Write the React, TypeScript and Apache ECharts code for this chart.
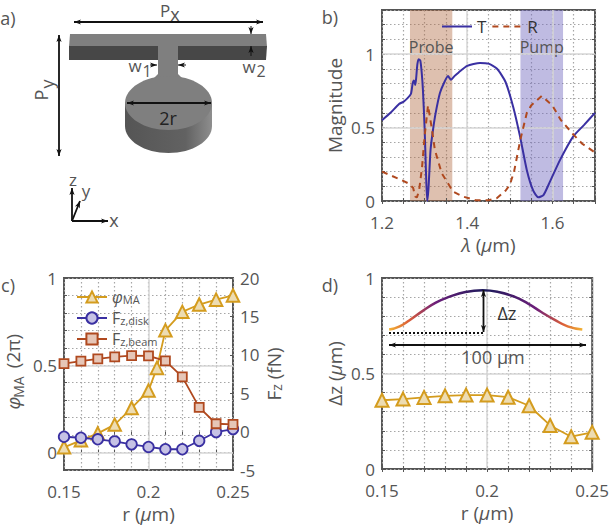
import React, { useEffect, useRef } from "react";
import * as echarts from "echarts";

const FONT = "Open Sans";
const INK = "#555";
const GOLD = "#d49c1e";
const BLUE = "#3a30a2";
const RUST = "#b0491f";

const lambdaT = [1.2,1.22,1.24,1.25,1.26,1.268,1.272,1.275,1.278,1.28,1.283,1.286,1.29,1.293,1.296,1.3,1.303,1.306,1.309,1.314,1.32,1.326,1.336,1.345,1.355,1.362,1.37,1.38,1.4,1.43,1.45,1.47,1.49,1.508,1.524,1.54,1.555,1.567,1.579,1.594,1.618,1.649,1.675,1.7];
const valuesT = [0.55,0.6,0.66,0.675,0.7,0.73,0.8,0.82,0.79,0.83,0.93,0.965,0.955,0.88,0.76,0.5,0.22,0,0.08,0.35,0.49,0.6,0.735,0.8,0.85,0.825,0.85,0.875,0.92,0.94,0.935,0.9,0.81,0.64,0.44,0.21,0.07,0.025,0.04,0.13,0.28,0.44,0.52,0.6];
const lambdaR = [1.2,1.22,1.24,1.262,1.273,1.278,1.282,1.287,1.294,1.3,1.308,1.316,1.324,1.34,1.367,1.39,1.42,1.45,1.47,1.49,1.5,1.51,1.525,1.54,1.55,1.575,1.6,1.62,1.65,1.67,1.7];
const valuesR = [0.2,0.175,0.15,0.12,0.09,0.03,0.025,0.07,0.23,0.44,0.65,0.51,0.35,0.19,0.063,0.03,0.005,0.005,0.02,0.07,0.11,0.2,0.42,0.6,0.65,0.715,0.65,0.55,0.45,0.39,0.33];
const probeBand = [1.2657, 1.365];
const pumpBand = [1.525, 1.625];

const rPhi = [0.15,0.16,0.17,0.18,0.19,0.2,0.205,0.21,0.22,0.23,0.24,0.25];
const phiMA = [0.03,0.07,0.11,0.16,0.255,0.355,0.485,0.7,0.806,0.848,0.876,0.9];
const rForce = [0.15,0.16,0.17,0.18,0.19,0.2,0.21,0.22,0.23,0.24,0.25];
const fzDisk = [-0.67,-0.8,-1.0,-1.27,-1.66,-2.0,-2.3,-2.3,-1.2,-0.06,0.33];
const fzBeam = [8.85,9.17,9.47,9.73,9.9,9.86,9.2,7.13,3.15,1.02,0.94];

const rDz = [0.15,0.16,0.17,0.18,0.19,0.2,0.21,0.22,0.23,0.24,0.25];
const deltaZ = [0.36,0.366,0.375,0.383,0.387,0.387,0.376,0.331,0.228,0.169,0.192];
const insetX = [0.1534,0.1584,0.1631,0.1694,0.1756,0.1819,0.1897,0.1979,0.2054,0.2132,0.2195,0.2258,0.232,0.2383,0.2453];
const insetY = [0.73,0.747,0.779,0.828,0.871,0.901,0.927,0.936,0.927,0.901,0.866,0.822,0.782,0.747,0.73];

const pair = (xs: number[], ys: number[]) => xs.map((x, i) => [x, ys[i]]);
const near = (v: number, list: number[]) => list.some((t) => Math.abs(t - v) < 1e-6);

const mkTicks = (labels: number[], margin = 10) => ({
  show: true,
  color: "#555",
  fontFamily: FONT,
  fontSize: 17,
  margin,
  formatter: (v: number) => (near(v, labels) ? String(Math.round(v * 1000) / 1000) : ""),
});
const RICH = {
  i: { fontStyle: "italic", fontFamily: FONT, fontSize: 19, color: INK },
  n: { fontFamily: FONT, fontSize: 19, color: INK },
  s: { fontFamily: FONT, fontSize: 14, color: INK, verticalAlign: "bottom" },
};
const nameStyle = { fontFamily: FONT, fontSize: 19, color: INK, rich: RICH };
const TICK = { show: true, inside: true, length: 3, lineStyle: { color: INK } };
const DOTS = { show: true, lineStyle: { color: "#a6a6a6", type: [1.5, 2.5], width: 1.2 } };

function xAxis(grid: number, min: number, max: number, interval: number, labels: number[], name: string) {
  return {
    type: "value", gridIndex: grid, min, max, interval, name, nameLocation: "middle", nameGap: 34, nameTextStyle: nameStyle,
    axisLine: { show: false }, axisTick: TICK, axisLabel: mkTicks(labels, 13), splitLine: DOTS,
  };
}
function yAxis(grid: number, min: number, max: number, interval: number, labels: number[], name: string, gap: number) {
  return {
    type: "value", gridIndex: grid, min, max, interval, name, nameLocation: "middle", nameGap: gap, nameTextStyle: nameStyle,
    axisLine: { show: false }, axisTick: TICK, axisLabel: mkTicks(labels, 7), splitLine: DOTS,
  };
}
const mirrorX = (grid: number, min: number, max: number, interval: number) => ({
  type: "value", gridIndex: grid, min, max, interval, position: "top",
  axisLine: { show: false }, axisLabel: { show: false }, splitLine: { show: false }, axisTick: TICK,
});
const mirrorY = (grid: number, min: number, max: number, interval: number) => ({
  type: "value", gridIndex: grid, min, max, interval, position: "right",
  axisLine: { show: false }, axisLabel: { show: false }, splitLine: { show: false }, axisTick: TICK,
});

function majors(xi: number, yi: number, xs: number[], ys: number[]) {
  return {
    type: "line", xAxisIndex: xi, yAxisIndex: yi, data: [], z: 1, silent: true,
    markLine: {
      silent: true, symbol: "none", z: 1, label: { show: false },
      lineStyle: { color: "#d6d6d6", type: "solid", width: 1.5 },
      data: [...xs.map((v) => ({ xAxis: v })), ...ys.map((v) => ({ yAxis: v }))],
    },
  };
}

type Pt = [number, number];
function head(tip: Pt, from: Pt, size = 7, half = 2.6) {
  const dx = tip[0] - from[0], dy = tip[1] - from[1];
  const L = Math.hypot(dx, dy) || 1;
  const ux = dx / L, uy = dy / L;
  return {
    type: "polygon", z: 30, silent: true,
    shape: { points: [tip, [tip[0] - ux * size - uy * half, tip[1] - uy * size + ux * half], [tip[0] - ux * size * 0.75, tip[1] - uy * size * 0.75], [tip[0] - ux * size + uy * half, tip[1] - uy * size - ux * half]] },
    style: { fill: "#111" },
  };
}
function arrow(a: Pt, b: Pt, both = true, width = 1.8) {
  const list: any[] = [
    { type: "line", z: 30, silent: true, shape: { x1: a[0], y1: a[1], x2: b[0], y2: b[1] }, style: { stroke: "#111", lineWidth: width } },
    head(b, a),
  ];
  if (both) list.push(head(a, b));
  return list;
}
function txt(x: number, y: number, text: string, fontSize = 17, extra: any = {}, rotation = 0) {
  return {
    type: "text", z: 31, silent: true, x, y, rotation,
    style: { text, fontFamily: FONT, fontSize, fontStyle: extra.fontStyle || "normal", fill: extra.fill || INK, align: extra.align || "center", verticalAlign: "middle" },
  };
}

function diagram() {
  const g: any[] = [];
  const shade = "#7f7f7f";
  const dark = "#474747";
  const side = () => new echarts.graphic.LinearGradient(0, 0, 1, 0, [{ offset: 0, color: "#555" }, { offset: 0.7, color: "#626262" }, { offset: 1, color: "#8e8e8e" }]);
  g.push(
    { type: "polygon", z: 20, silent: true, shape: { points: [[70, 34], [266, 34], [267, 47], [69, 47]] }, style: { fill: shade } },
    { type: "polygon", z: 20, silent: true, shape: { points: [[69, 46], [69, 60], [266, 60], [267, 46]] }, style: { fill: dark } },
    { type: "rect", z: 21, silent: true, shape: { x: 158, y: 45, width: 20, height: 36 }, style: { fill: shade } },
    { type: "polygon", z: 21, silent: true, shape: { points: [[158, 74], [153, 79], [183, 79], [178, 74]] }, style: { fill: shade } },
    { type: "ellipse", z: 20, silent: true, shape: { cx: 168.5, cy: 126, rx: 43.5, ry: 27 }, style: { fill: side() } },
    { type: "rect", z: 20, silent: true, shape: { x: 125, y: 103, width: 87, height: 23 }, style: { fill: side() } },
    { type: "ellipse", z: 21, silent: true, shape: { cx: 168.5, cy: 103, rx: 43.5, ry: 27 }, style: { fill: shade } },
  );
  g.push(...arrow([74, 22], [263, 22]));
  g.push(...arrow([59, 35], [59, 156]));
  g.push(...arrow([127, 103], [211, 103]));
  g.push(...arrow([150, 65], [157, 65], false, 1));
  g.push(...arrow([186, 65], [178, 65], false, 1));
  g.push(...arrow([251, 26], [251, 34], false, 1));
  g.push(...arrow([251, 56], [251, 46], false, 1));
  g.push(...arrow([72, 221], [72, 188], false));
  g.push(...arrow([72, 221], [80, 201], false));
  g.push(...arrow([72, 221], [108, 221], false));
  g.push(
    txt(8, 18, "a)", 18), txt(165, 10, "P", 17), txt(175, 14, "x", 18),
    txt(41, 95, "P", 18, {}, Math.PI / 2), txt(47, 84, "y", 18, {}, Math.PI / 2),
    txt(135, 65, "w", 17), txt(147, 71, "1", 16), txt(249, 66, "w", 17), txt(261, 71, "2", 16),
    txt(168, 118, "2r", 18, { fill: "#222" }), txt(73, 179, "z", 17), txt(86, 190, "y", 17), txt(114, 220, "x", 18),
  );
  return g;
}

function annotations() {
  const g: any[] = [];
  g.push(txt(330, 17, "b)", 18), txt(8, 285, "c)", 18), txt(330, 285, "d)", 18));
  g.push(
    txt(13, 403, "φ", 19, { fontStyle: "italic" }, Math.PI / 2),
    txt(18, 387, "MA", 14, {}, Math.PI / 2),
    txt(13, 351, "(2π)", 19, {}, Math.PI / 2),
  );
  g.push({ type: "line", z: 30, silent: true, shape: { x1: 389, y1: 333, x2: 483, y2: 333 }, style: { stroke: "#111", lineWidth: 2, lineDash: [2, 2] } });
  g.push(...arrow([483.5, 290], [483.5, 332]));
  g.push(...arrow([389, 345], [586, 345]));
  g.push(txt(507, 313, "Δz", 18, { fill: "#333" }), txt(493, 357, "100 µm", 18));
  return g;
}

export default function App() {
  const ref = useRef<HTMLDivElement>(null);
  useEffect(() => {
    if (!ref.current) return;
    const chart = echarts.init(ref.current, undefined, { renderer: "svg" });
    const band = (name: string, range: number[], color: string) => [
      { name, xAxis: range[0], itemStyle: { color } },
      { xAxis: range[1] },
    ];
    const gridBase = { show: true, borderColor: INK, borderWidth: 2, backgroundColor: "transparent" };
    const option: any = {
      animation: false,
      backgroundColor: "#fff",
      textStyle: { fontFamily: FONT },
      grid: [
        { left: 382, top: 10, width: 213, height: 191, ...gridBase },
        { left: 64, top: 278, width: 169, height: 192, ...gridBase },
        { left: 382, top: 278, width: 213, height: 191, ...gridBase },
      ],
      xAxis: [
        xAxis(0, 1.2, 1.7, 0.05, [1.2, 1.4, 1.6], "{i|λ}{n| (}{i|µ}{n|m)}"),
        xAxis(1, 0.15, 0.25, 0.01, [0.15, 0.2, 0.25], "{n|r (}{i|µ}{n|m)}"),
        xAxis(2, 0.15, 0.25, 0.01, [0.15, 0.2, 0.25], "{n|r (}{i|µ}{n|m)}"),
        mirrorX(0, 1.2, 1.7, 0.05),
        mirrorX(1, 0.15, 0.25, 0.01),
        mirrorX(2, 0.15, 0.25, 0.01),
      ],
      yAxis: [
        yAxis(0, 0, 1.3, 0.1, [0, 0.5, 1], "Magnitude", 38),
        yAxis(1, -0.1, 1, 0.1, [0, 0.5, 1], "", 44),
        yAxis(2, 0, 1, 0.1, [0, 0.5, 1], "{n|Δz (}{i|µ}{n|m)}", 38),
        {
          ...yAxis(1, -5, 20, 5, [-5, 0, 5, 10, 15, 20], "{n|F}{s|z}{n| (fN)}", 31),
          position: "right", nameRotate: 90, splitLine: { show: false },
        },
        mirrorY(0, 0, 1.3, 0.1),
        mirrorY(2, 0, 1, 0.1),
      ],
      legend: [
        {
          data: ["T", "R"], left: 441, top: 18, padding: 0, itemWidth: 30, itemHeight: 14, itemGap: 5, z: 10,
          itemStyle: { opacity: 0 },
          textStyle: { fontFamily: FONT, fontSize: 17, color: "#333" },
          selectedMode: false,
        },
        {
          data: ["φMA", "Fz,disk", "Fz,beam"], orient: "vertical", left: 76, top: 289, padding: 0, itemWidth: 30, itemHeight: 14, itemGap: 5, z: 10,
          selectedMode: false,
          formatter: (n: string) => (n === "φMA" ? "{i|φ}{s|MA}" : n === "Fz,disk" ? "{n|F}{s|z,disk}" : "{n|F}{s|z,beam}"),
          textStyle: {
            fontFamily: FONT, fontSize: 16, color: INK,
            rich: {
              i: { fontStyle: "italic", fontFamily: FONT, fontSize: 16, color: INK },
              n: { fontFamily: FONT, fontSize: 16, color: INK },
              s: { fontFamily: FONT, fontSize: 11, color: INK, verticalAlign: "bottom" },
            },
          },
        },
      ],
      series: [
        majors(0, 0, [1.4, 1.6], [0.5, 1]),
        majors(1, 1, [0.2], [0, 0.5]),
        majors(2, 2, [0.2], [0.5]),
        {
          name: "T", type: "line", xAxisIndex: 0, yAxisIndex: 0, z: 4, symbol: "none", smooth: 0.2,
          data: pair(lambdaT, valuesT), lineStyle: { color: BLUE, width: 2 }, itemStyle: { color: BLUE },
          markArea: {
            silent: true, z: 0,
            label: { show: true, position: "insideTop", distance: 29, fontFamily: FONT, fontSize: 16, color: INK },
            data: [band("Probe", probeBand, "rgba(176,104,64,0.42)"), band("Pump", pumpBand, "rgba(112,104,190,0.45)")],
          },
        },
        {
          name: "R", type: "line", xAxisIndex: 0, yAxisIndex: 0, z: 4, symbol: "none",
          data: pair(lambdaR, valuesR), lineStyle: { color: RUST, width: 2, type: [6, 5] }, itemStyle: { color: RUST },
        },
        {
          name: "φMA", type: "line", xAxisIndex: 1, yAxisIndex: 1, z: 4, clip: false, symbol: "triangle", symbolSize: 12.5,
          data: pair(rPhi, phiMA), lineStyle: { color: GOLD, width: 1.8 },
          itemStyle: { color: "#eddcb2", borderColor: GOLD, borderWidth: 2 },
        },
        {
          name: "Fz,disk", type: "line", xAxisIndex: 1, yAxisIndex: 3, z: 5, clip: false, symbol: "circle", symbolSize: 10.5,
          data: pair(rForce, fzDisk), lineStyle: { color: BLUE, width: 1.8 },
          itemStyle: { color: "#c6c2e5", borderColor: BLUE, borderWidth: 1.8 },
        },
        {
          name: "Fz,beam", type: "line", xAxisIndex: 1, yAxisIndex: 3, z: 5, clip: false, symbol: "rect", symbolSize: 9,
          data: pair(rForce, fzBeam), lineStyle: { color: RUST, width: 1.8 },
          itemStyle: { color: "#e6c6b7", borderColor: RUST, borderWidth: 1.8 },
        },
        {
          name: "Δz", type: "line", xAxisIndex: 2, yAxisIndex: 2, z: 4, clip: false, symbol: "triangle", symbolSize: 13,
          data: pair(rDz, deltaZ), lineStyle: { color: GOLD, width: 1.8 },
          itemStyle: { color: "#eddcb2", borderColor: GOLD, borderWidth: 2 },
        },
        {
          name: "profile", type: "line", xAxisIndex: 2, yAxisIndex: 2, z: 4, symbol: "none", smooth: 0.5,
          data: pair(insetX, insetY),
          lineStyle: {
            width: 2.5,
            color: new echarts.graphic.LinearGradient(0, 0, 1, 0, [
              { offset: 0, color: "#f2b233" },
              { offset: 0.1, color: "#dc5f38" },
              { offset: 0.24, color: "#6d1f7a" },
              { offset: 0.5, color: "#1b1a5a" },
              { offset: 0.76, color: "#6d1f7a" },
              { offset: 0.9, color: "#dc5f38" },
              { offset: 1, color: "#f2b233" },
            ]),
          },
        },
      ],
      graphic: { elements: [...diagram(), ...annotations()] },
    };
    chart.setOption(option);
    return () => chart.dispose();
  }, []);
  return <div ref={ref} style={{ position: "absolute", left: 0, top: 0, width: 612, height: 525 }} />;
}
